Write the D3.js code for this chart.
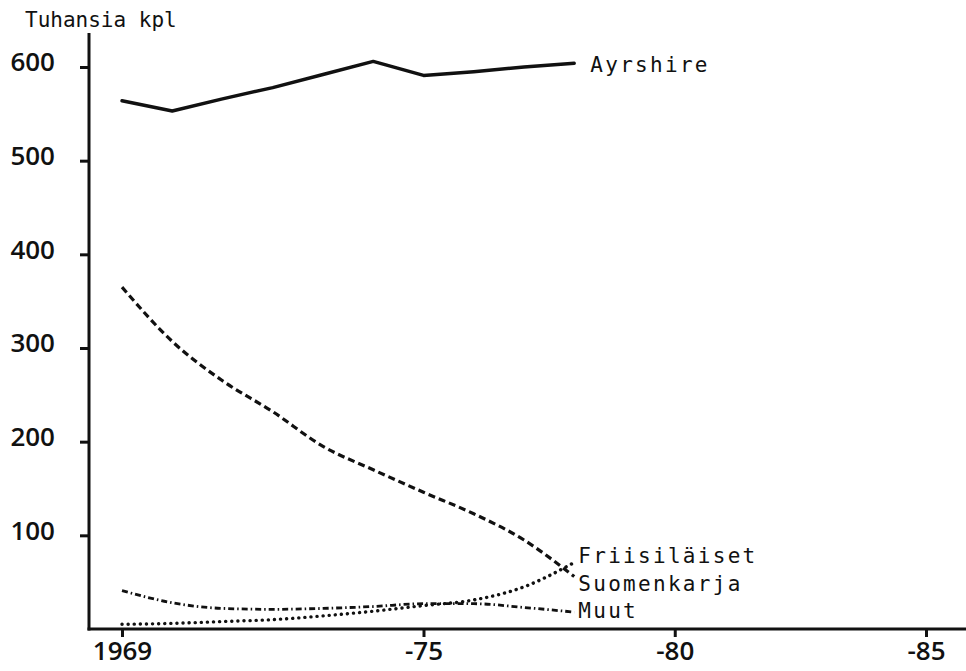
<!DOCTYPE html>
<html>
<head>
<meta charset="utf-8">
<script src="https://cdn.jsdelivr.net/npm/d3@7"></script>
<style>
  body { margin: 0; background: #fff; }
  svg { display: block; }
  .tick text { font-family: "Open Sans", "DejaVu Sans", sans-serif; font-size: 26px; font-weight: 600; fill: #111; }
  .tick line { stroke: #111; stroke-width: 3; }
  .series-label, .unit-label { font-family: "DejaVu Sans Mono", monospace; font-size: 21px; fill: #111; }
  .series-label { letter-spacing: 2.3px; }
</style>
</head>
<body>
<svg></svg>
<script>
// DATA

let years = [1969, 1970, 1971, 1972, 1973, 1974, 1975, 1976, 1977, 1978];
let ayrshire = [564, 553, 566, 578, 592, 606, 591, 595, 600, 604];
let suomenkarja = [365, 307, 265, 232, 195, 170, 146, 123, 95, 56];
let friisilaiset = [5, 6, 8, 10, 14, 19, 25, 31, 45, 71];
let muut = [41, 28, 22, 21, 22, 24, 27, 27, 23, 18];

let seriesNames = ["Ayrshire", "Suomenkarja", "Friisiläiset", "Muut"];
let yTickValues = [100, 200, 300, 400, 500, 600];
let xTickValues = [1969, 1975, 1980, 1985];

// PAGE SETUP

let width = 966;
let height = 671;

let svg = d3.select("svg")
  .attr("width", width)
  .attr("height", height);

// scales
let x = d3.scaleLinear()
  .domain([1969, 1985])
  .range([122, 926]);

let y = d3.scaleLinear()
  .domain([0, 600])
  .range([629, 67]);

let axisX = 89; // where the y axis sits

// AXES

let yAxis = d3.axisLeft(y)
  .tickValues(yTickValues)
  .tickSize(9)
  .tickSizeOuter(0)
  .tickPadding(25);

let yAxisG = svg.append("g")
  .attr("transform", `translate(${axisX},0)`)
  .call(yAxis);
yAxisG.select(".domain").remove();
yAxisG.selectAll(".tick text").attr("dy", "0.15em");

let xAxis = d3.axisBottom(x)
  .tickValues(xTickValues)
  .tickSize(8)
  .tickSizeOuter(0)
  .tickPadding(3)
  .tickFormat(d => d == 1969 ? "1969" : "-" + String(d).slice(2));

let xAxisG = svg.append("g")
  .attr("transform", `translate(0,${y(0)})`)
  .call(xAxis);
xAxisG.select(".domain").remove();
xAxisG.selectAll(".tick text").attr("dy", "0.78em");

// axis lines
svg.append("line")
  .attr("x1", axisX).attr("x2", axisX)
  .attr("y1", 33).attr("y2", y(0) + 1.5)
  .attr("stroke", "#111").attr("stroke-width", 3);

svg.append("line")
  .attr("x1", axisX - 1.5).attr("x2", width)
  .attr("y1", y(0)).attr("y2", y(0))
  .attr("stroke", "#111").attr("stroke-width", 3);

svg.append("text")
  .attr("class", "unit-label")
  .attr("x", 25)
  .attr("y", 27)
  .text("Tuhansia kpl");

// LINES

let seriesValues = {
  "Ayrshire": ayrshire,
  "Suomenkarja": suomenkarja,
  "Friisiläiset": friisilaiset,
  "Muut": muut
};

let lineStyles = {
  "Ayrshire": {width: 3.4, dash: null, cap: "round", curve: d3.curveLinear},
  "Suomenkarja": {width: 3.2, dash: "7,4", cap: "butt", curve: d3.curveMonotoneX},
  "Friisiläiset": {width: 3.4, dash: "0.1,6", cap: "round", curve: d3.curveMonotoneX},
  "Muut": {width: 2.8, dash: "6,3,1.5,3", cap: "butt", curve: d3.curveMonotoneX}
};

// label offsets relative to the last point of each line
let labelOffsets = {
  "Ayrshire": {dx: 16, dy: 9},
  "Suomenkarja": {dx: 4, dy: 14},
  "Friisiläiset": {dx: 4, dy: 1},
  "Muut": {dx: 4, dy: 6}
};

seriesNames.forEach(function(name){
  let values = seriesValues[name];
  let style = lineStyles[name];
  let points = years.map((yr, i) => [yr, values[i]]);

  let lineGenerator = d3.line()
    .x(d => x(d[0]))
    .y(d => y(d[1]))
    .curve(style.curve);

  svg.append("path")
    .datum(points)
    .attr("class", "series-line")
    .attr("fill", "none")
    .attr("stroke", "#111")
    .attr("stroke-width", style.width)
    .attr("stroke-linecap", style.cap)
    .attr("stroke-linejoin", "round")
    .attr("stroke-dasharray", style.dash)
    .attr("d", lineGenerator);

  let last = points[points.length - 1];
  svg.append("text")
    .attr("class", "series-label")
    .attr("x", x(last[0]) + labelOffsets[name].dx)
    .attr("y", y(last[1]) + labelOffsets[name].dy)
    .text(name);
});
</script>
</body>
</html>
